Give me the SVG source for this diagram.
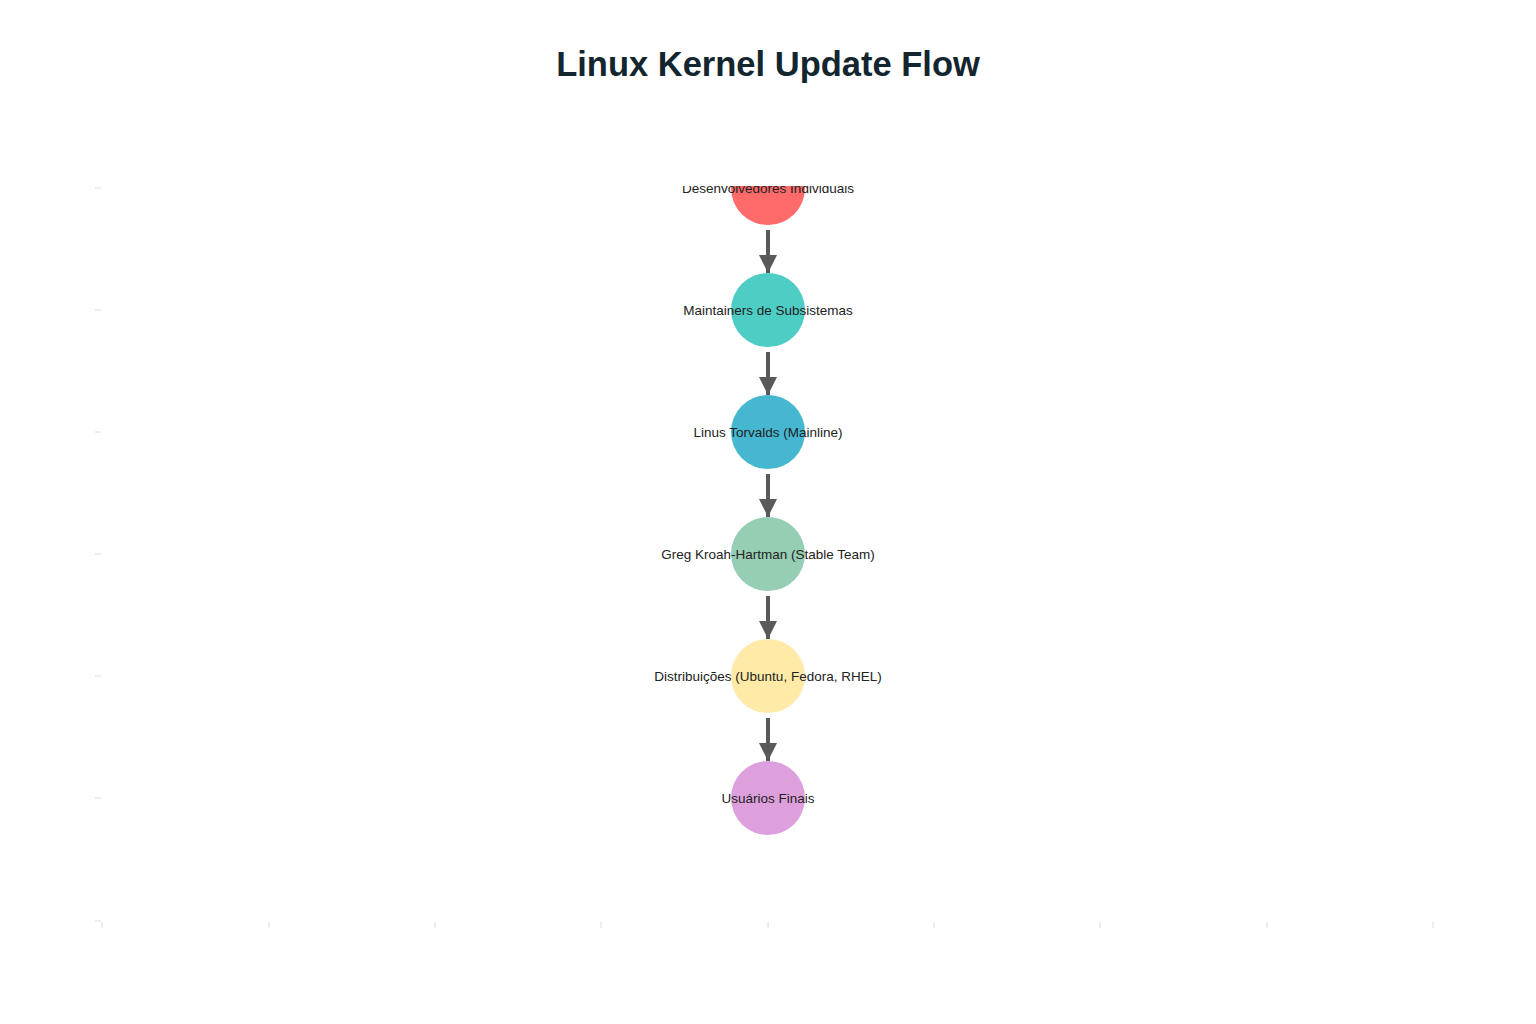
<svg xmlns="http://www.w3.org/2000/svg" width="1536" height="1024" viewBox="0 0 1536 1024">
<style>
.title{font-family:"Liberation Sans",Arial,sans-serif;font-size:34.5px;font-weight:bold;fill:#13252e}
.lbl{font-family:"Liberation Sans",Arial,sans-serif;font-size:13.5px;fill:#222;text-anchor:middle;dominant-baseline:central}
.tick{stroke:#dcdcdc;stroke-width:1}
.edge{stroke:#5a5a5a;stroke-width:4;fill:none}
</style>
<defs>
<marker id="ah" viewBox="0 0 10 10" refX="10" refY="5" markerWidth="4.5" markerHeight="4.5" orient="auto" markerUnits="strokeWidth">
<path d="M0,0 L10,5 L0,10 z" fill="#5a5a5a"/>
</marker>
<clipPath id="plot"><rect x="102" y="186" width="1332" height="736"/></clipPath>
</defs>
<rect width="1536" height="1024" fill="#fff"/>
<text class="title" x="768" y="76" text-anchor="middle">Linux Kernel Update Flow</text>
<g id="axes">
<path class="tick" d="M95,188h6M95,310h6M95,432h6M95,554h6M95,676h6M95,798h6M95,921h6"/>
<path class="tick" d="M102,922v6M269,922v6M435,922v6M601,922v6M768,922v6M934,922v6M1100,922v6M1267,922v6M1433,922v6"/>
</g>
<g id="connectors">
<line class="edge" x1="768" y1="230" x2="768" y2="273" marker-end="url(#ah)"/>
<line class="edge" x1="768" y1="352" x2="768" y2="395" marker-end="url(#ah)"/>
<line class="edge" x1="768" y1="474" x2="768" y2="517" marker-end="url(#ah)"/>
<line class="edge" x1="768" y1="596" x2="768" y2="639" marker-end="url(#ah)"/>
<line class="edge" x1="768" y1="718" x2="768" y2="761" marker-end="url(#ah)"/>
</g>
<g clip-path="url(#plot)">
<g id="n1"><circle cx="768" cy="188" r="37" fill="#ff6b6b"/><text class="lbl" x="768" y="188">Desenvolvedores Individuais</text></g>
</g>
<g id="n2"><circle cx="768" cy="310" r="37" fill="#4ecdc4"/><text class="lbl" x="768" y="310">Maintainers de Subsistemas</text></g>
<g id="n3"><circle cx="768" cy="432" r="37" fill="#45b7d1"/><text class="lbl" x="768" y="432">Linus Torvalds (Mainline)</text></g>
<g id="n4"><circle cx="768" cy="554" r="37" fill="#96ceb4"/><text class="lbl" x="768" y="554">Greg Kroah-Hartman (Stable Team)</text></g>
<g id="n5"><circle cx="768" cy="676" r="37" fill="#ffeaa7"/><text class="lbl" x="768" y="676">Distribuições (Ubuntu, Fedora, RHEL)</text></g>
<g id="n6"><circle cx="768" cy="798" r="37" fill="#dda0dd"/><text class="lbl" x="768" y="798">Usuários Finais</text></g>
</svg>
